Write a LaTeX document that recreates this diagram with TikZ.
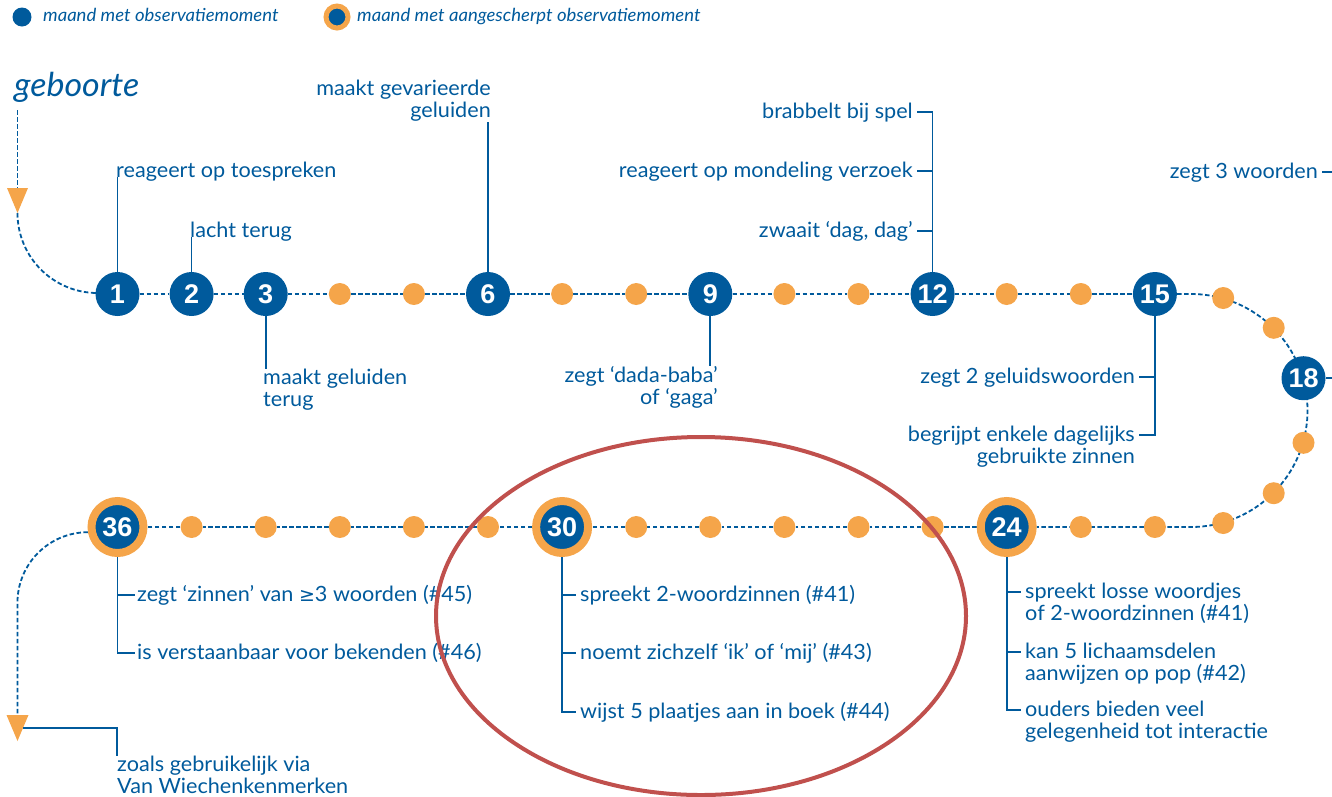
\documentclass[tikz,border=0pt]{standalone}
\usepackage{fontspec}
\setmainfont{Lato}[FakeStretch=1.03]
\newfontfamily\numfont{Liberation Sans}
\newfontfamily\symfont{DejaVu Sans}
\usetikzlibrary{backgrounds,calc}
\definecolor{cblue}{HTML}{005A9C}
\definecolor{corange}{HTML}{F5A54A}
\definecolor{cred}{HTML}{C0504D}
\begin{document}
\begin{tikzpicture}[x=1pt,y=-1pt,
  big/.style={circle,fill=cblue,text=white,minimum size=44pt,inner sep=0pt,font=\numfont\bfseries\fontsize{27}{27}\selectfont},
  ringed/.style={big,draw=corange,line width=8pt,minimum size=52pt},
  dot/.style={circle,fill=corange,minimum size=22pt,inner sep=0pt},
  dline/.style={cblue,line width=1.8pt,dash pattern=on 4.5pt off 2.5pt},
  lead/.style={cblue,line width=1.7pt},
  lbl/.style={text=cblue,inner sep=0pt,font=\fontsize{21}{22}\selectfont},
  leg/.style={text=cblue,inner sep=0pt,font=\itshape\fontsize{18}{18}\selectfont},
]
\useasboundingbox (0,0) rectangle (1332,796);

% legend
\node[circle,fill=cblue,minimum size=19pt,inner sep=0pt] (lg1) at (22,17) {};
\node[leg,anchor=mid west] (lgt1) at (43,19) {maand met observatiemoment};
\node[circle,fill=cblue,draw=corange,line width=5pt,minimum size=22pt,inner sep=0pt] (lg2) at (337,17) {};
\node[leg,anchor=mid west] (lgt2) at (357,19) {maand met aangescherpt observatiemoment};

% birth
\node[text=cblue,inner sep=0pt,font=\itshape\fontsize{33}{33}\selectfont,anchor=base west] (geb) at (14,96) {geboorte};
\coordinate (g0) at (17.5,110);
\coordinate (g1) at (17.5,188);
\coordinate (g2) at (17.5,213);
\fill[corange] (7,188) -- (28,188) -- (g2) -- cycle;

% top row
\node[big] (m1) at (117.5,294) {1};
\node[big] (m2) at (191.6,294) {2};
\node[big] (m3) at (265.7,294) {3};
\node[dot] (d4) at (339.8,294) {};
\node[dot] (d5) at (413.9,294) {};
\node[big] (m6) at (488,294) {6};
\node[dot] (d7) at (562.1,294) {};
\node[dot] (d8) at (636.2,294) {};
\node[big] (m9) at (710.3,294) {9};
\node[dot] (d10) at (784.4,294) {};
\node[dot] (d11) at (858.5,294) {};
\node[big] (m12) at (932.6,294) {12};
\node[dot] (d13) at (1006.7,294) {};
\node[dot] (d14) at (1080.8,294) {};
\node[big] (m15) at (1154.9,294) {15};
% arc
\node[dot] (d16) at (1223.2,298) {};
\node[dot] (d17) at (1273.7,327.8) {};
\node[big] (m18) at (1303.5,378.2) {18};
\node[dot] (d19) at (1303.5,442.8) {};
\node[dot] (d20) at (1273.7,493.2) {};
\node[dot] (d21) at (1223.2,523) {};
% bottom row
\node[dot] (d22) at (1154.9,527) {};
\node[dot] (d23) at (1080.8,527) {};
\node[ringed] (m24) at (1006.7,527) {24};
\node[dot] (d25) at (932.6,527) {};
\node[dot] (d26) at (858.5,527) {};
\node[dot] (d27) at (784.4,527) {};
\node[dot] (d28) at (710.3,527) {};
\node[dot] (d29) at (636.2,527) {};
\node[ringed] (m30) at (562.1,527) {30};
\node[dot] (d31) at (488,527) {};
\node[dot] (d32) at (413.9,527) {};
\node[dot] (d33) at (339.8,527) {};
\node[dot] (d34) at (265.7,527) {};
\node[dot] (d35) at (191.6,527) {};
\node[ringed] (m36) at (117.5,527) {36};

% end arrow
\coordinate (e0) at (17.5,714);
\coordinate (e1) at (17.5,741);
\fill[corange] (6.5,715) -- (28.5,715) -- (e1) -- cycle;
\coordinate (e2) at (23,728);

\begin{scope}[on background layer]
\draw[dline] (g0) -- (g1);
\draw[dline] (g2) arc[start angle=180,end angle=270,radius=80pt] -- (m1);
\draw[dline] (m1) -- (m2) -- (m3) -- (d4) -- (d5) -- (m6) -- (d7) -- (d8) -- (m9) -- (d10) -- (d11) -- (m12) -- (d13) -- (d14) -- (m15);
\draw[dline] (m15) -- (1191,294) arc[start angle=90,end angle=-90,radius=116.5pt] -- (m24);
\draw[dline] (m24) -- (d25) -- (d26) -- (d27) -- (d28) -- (d29) -- (m30) -- (d31) -- (d32) -- (d33) -- (d34) -- (d35) -- (m36);
\draw[dline] (m36.190) arc[start angle=90,end angle=180,radius=70.5pt] -- (e0);
\end{scope}

% labels top
\node[lbl,anchor=base west] (t1) at (116,177) {reageert op toespreken};
\draw[lead] (m1) -- (m1 |- t1.base);
\node[lbl,anchor=base west] (t2) at (190,237) {lacht terug};
\draw[lead] (m2) -- (m2 |- t2.base);
\node[lbl,anchor=north west,align=left] (t3) at (263,369) {maakt geluiden\\terug};
\draw[lead] (m3) -- (m3 |- t3.north);
\node[lbl,anchor=south east,align=right] (t6) at (491,122) {maakt gevarieerde\\geluiden};
\draw[lead] (m6) -- (m6 |- t6.south);
\node[lbl,anchor=north east,align=right] (t9) at (718,366) {zegt ‘dada-baba’\\of ‘gaga’};
\draw[lead] (m9) -- (m9 |- t9.north);

\node[lbl,anchor=base east] (t12a) at (913,118) {brabbelt bij spel};
\node[lbl,anchor=base east] (t12b) at (913,177) {reageert op mondeling verzoek};
\node[lbl,anchor=base east] (t12c) at (913,237) {zwaait ‘dag, dag’};
\coordinate (k12a) at ([shift={(4pt,6pt)}]t12a.base east);
\coordinate (k12b) at ([shift={(4pt,6pt)}]t12b.base east);
\coordinate (k12c) at ([shift={(4pt,6pt)}]t12c.base east);
\draw[lead] (m12) -- (m12 |- k12a) -- (k12a);
\draw[lead] (m12 |- k12b) -- (k12b);
\draw[lead] (m12 |- k12c) -- (k12c);

\node[lbl,anchor=base east] (t15a) at (1135,383) {zegt 2 geluidswoorden};
\node[lbl,anchor=base east,align=right] (t15b) at (1135,463) {begrijpt enkele dagelijks\\gebruikte zinnen};
\coordinate (k15a) at ([shift={(4pt,6pt)}]t15a.base east);
\coordinate (k15b) at ([shift={(4pt,28pt)}]t15b.base east);
\draw[lead] (m15) -- (m15 |- k15b) -- (k15b);
\draw[lead] (m15 |- k15a) -- (k15a);

\node[lbl,anchor=base east] (t18) at (1318,178) {zegt 3 woorden};
\coordinate (k18) at ([shift={(4pt,6pt)}]t18.base east);
\coordinate (x18a) at (1332,172);
\coordinate (x18b) at (1332,378.2);
\draw[lead] (k18) -- (x18a);
\draw[lead] (m18) -- (x18b);

% labels bottom
\node[lbl,anchor=base west,align=left] (t24a) at (1025,620) {spreekt losse woordjes\\of 2-woordzinnen (\#41)};
\node[lbl,anchor=base west,align=left] (t24b) at (1025,680) {kan 5 lichaamsdelen\\aanwijzen op pop (\#42)};
\node[lbl,anchor=base west,align=left] (t24c) at (1025,738) {ouders bieden veel\\gelegenheid tot interactie};
\coordinate (k24a) at ([shift={(-4pt,28pt)}]t24a.base west);
\coordinate (k24b) at ([shift={(-4pt,28pt)}]t24b.base west);
\coordinate (k24c) at ([shift={(-4pt,28pt)}]t24c.base west);
\draw[lead] (m24) -- (m24 |- k24c) -- (k24c);
\draw[lead] (m24 |- k24a) -- (k24a);
\draw[lead] (m24 |- k24b) -- (k24b);

\node[lbl,anchor=base west] (t30a) at (580,601) {spreekt 2-woordzinnen (\#41)};
\node[lbl,anchor=base west] (t30b) at (580,659) {noemt zichzelf ‘ik’ of ‘mij’ (\#43)};
\node[lbl,anchor=base west] (t30c) at (580,718) {wijst 5 plaatjes aan in boek (\#44)};
\coordinate (k30a) at ([shift={(-4pt,6pt)}]t30a.base west);
\coordinate (k30b) at ([shift={(-4pt,6pt)}]t30b.base west);
\coordinate (k30c) at ([shift={(-4pt,6pt)}]t30c.base west);
\draw[lead] (m30) -- (m30 |- k30c) -- (k30c);
\draw[lead] (m30 |- k30a) -- (k30a);
\draw[lead] (m30 |- k30b) -- (k30b);

\node[lbl,anchor=base west] (t36a) at (137,601) {zegt ‘zinnen’ van {\symfont\fontsize{19}{22}\selectfont ≥}3 woorden (\#45)};
\node[lbl,anchor=base west] (t36b) at (137,659) {is verstaanbaar voor bekenden (\#46)};
\coordinate (k36a) at ([shift={(-2pt,6pt)}]t36a.base west);
\coordinate (k36b) at ([shift={(-2pt,6pt)}]t36b.base west);
\draw[lead] (m36) -- (m36 |- k36b) -- (k36b);
\draw[lead] (m36 |- k36a) -- (k36a);

\node[lbl,anchor=north west,align=left] (tz) at (117,756) {zoals gebruikelijk via\\Van Wiechenkenmerken};
\draw[lead] (e2) -| (tz.north west);

% highlight
\draw[cred,line width=4pt] (701,616) ellipse[x radius=265pt,y radius=179pt];
\end{tikzpicture}
\end{document}
